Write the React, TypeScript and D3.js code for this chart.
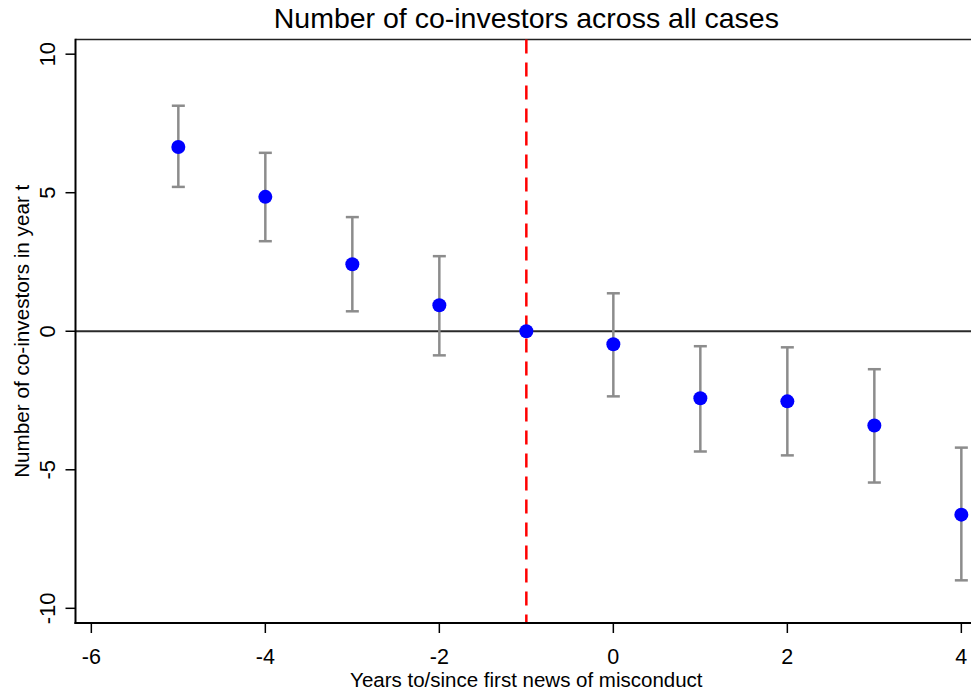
import React from "react";
import * as d3 from "d3";

const years = [-5, -4, -3, -2, -1, 0, 1, 2, 3, 4];
const estimates = [6.65, 4.85, 2.42, 0.94, 0, -0.47, -2.42, -2.53, -3.4, -6.62];
const ciLow = [5.21, 3.25, 0.72, -0.87, 0, -2.35, -4.34, -4.48, -5.46, -8.99];
const ciHigh = [8.14, 6.44, 4.12, 2.71, 0, 1.37, -0.54, -0.58, -1.37, -4.2];
const xTicks = [-6, -4, -2, 0, 2, 4];
const yTicks = [10, 5, 0, -5, -10];
const eventYear = -1;

const W = 971;
const H = 692;
const left = 75.5;
const right = 977;
const top = 39.5;
const bottom = 623;

export default function App() {
  const x = d3.scaleLinear().domain([-6.182, 4.18]).range([left, right]);
  const y = d3.scaleLinear().domain([10.53, -10.53]).range([top, bottom]);
  const font = "'Liberation Sans', Arial, sans-serif";
  return (
    <div style={{ position: "absolute", left: 0, top: 0 }}>
      <svg width={W} height={H} style={{ display: "block", background: "#fff" }} fontFamily={font}>
        <rect x={0} y={0} width={W} height={H} fill="#fff" />
        {/* top border */}
        <line x1={left} x2={right} y1={top} y2={top} stroke="#222" strokeWidth={1.6} />
        {/* zero line */}
        <line x1={left} x2={right} y1={y(0)} y2={y(0)} stroke="#2a2a2a" strokeWidth={2} />
        {/* event line */}
        <line
          x1={x(eventYear)}
          x2={x(eventYear)}
          y1={top}
          y2={bottom}
          stroke="#ff0000"
          strokeWidth={2.5}
          strokeDasharray="14 9"
        />
        {/* error bars */}
        {years.map((yr, i) =>
          ciLow[i] === ciHigh[i] ? null : (
            <g key={"e" + yr} stroke="#8c8c8c" strokeWidth={2.5}>
              <line x1={x(yr)} x2={x(yr)} y1={y(ciLow[i])} y2={y(ciHigh[i])} />
              <line x1={x(yr) - 6.5} x2={x(yr) + 6.5} y1={y(ciLow[i])} y2={y(ciLow[i])} />
              <line x1={x(yr) - 6.5} x2={x(yr) + 6.5} y1={y(ciHigh[i])} y2={y(ciHigh[i])} />
            </g>
          )
        )}
        {/* points */}
        {years.map((yr, i) => (
          <circle key={"p" + yr} cx={x(yr)} cy={y(estimates[i])} r={7} fill="#0000ff" />
        ))}
        {/* axes */}
        <line x1={left} x2={left} y1={top - 0.8} y2={bottom + 1} stroke="#000" strokeWidth={2} />
        <line x1={left - 1} x2={right} y1={bottom} y2={bottom} stroke="#000" strokeWidth={2} />
        {yTicks.map((t) => (
          <g key={"yt" + t}>
            <line x1={left - 10} x2={left} y1={y(t)} y2={y(t)} stroke="#000" strokeWidth={1.5} />
            <text
              transform={`translate(55,${y(t)}) rotate(-90)`}
              textAnchor="middle"
              fontSize={22}
              fill="#000"
            >
              {t}
            </text>
          </g>
        ))}
        {xTicks.map((t) => (
          <g key={"xt" + t}>
            <line x1={x(t)} x2={x(t)} y1={bottom} y2={bottom + 10} stroke="#000" strokeWidth={1.5} />
            <text x={x(t)} y={664} textAnchor="middle" fontSize={21.5} fill="#000">
              {t}
            </text>
          </g>
        ))}
        <text x={x(eventYear)} y={28} textAnchor="middle" fontSize={28.5} fill="#000">
          Number of co-investors across all cases
        </text>
        <text x={x(eventYear)} y={687} textAnchor="middle" fontSize={20.5} fill="#000">
          Years to/since first news of misconduct
        </text>
        <text
          transform={`translate(29,${y(0)}) rotate(-90)`}
          textAnchor="middle"
          fontSize={20.7}
          fill="#000"
        >
          Number of co-investors in year t
        </text>
      </svg>
    </div>
  );
}
